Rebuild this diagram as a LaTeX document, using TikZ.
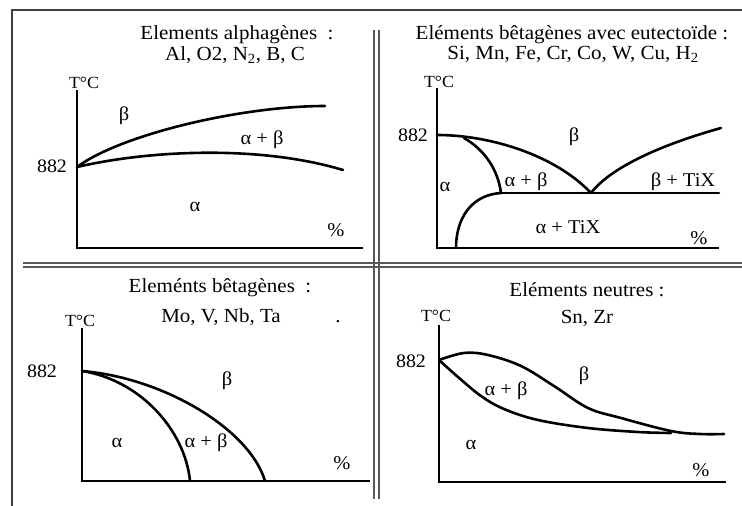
\documentclass[tikz,border=0pt]{standalone}
\usepackage{fontspec}
\setmainfont[FakeStretch=1.05]{Liberation Serif}
\begin{document}
\begin{tikzpicture}[x=1pt,y=-1pt,
  frame/.style={line width=1.8pt, draw=black!75},
  divider/.style={line width=1.5pt, draw=black!65},
  axis/.style={line width=1.4pt},
  curve/.style={line width=2.6pt, line cap=round},
  ttl/.style={font=\fontsize{20}{22}\selectfont, anchor=base, inner sep=0pt},
  lbl/.style={font=\fontsize{19.5}{20}\selectfont, inner sep=0pt},
  tlab/.style={font=\fontsize{17}{18}\selectfont, inner sep=0pt},
  tnum/.style={font=\fontsize{19}{20}\selectfont, inner sep=0pt}]
\useasboundingbox (0,0) rectangle (742,506);
% frame and dividers
\draw[frame] (12,506) -- (12,10) -- (742,10);
\draw[divider] (23,263) -- (742,263);
\draw[divider] (23,267) -- (742,267);
\draw[divider] (374,30) -- (374,499);
\draw[divider] (379,30) -- (379,499);

% ---------- Panel 1 ----------
\node[ttl] (t1a) at (237,39.5) {Elements alphagènes\ \ :};
\node[ttl] (t1b) at (235,60) {Al, O2, N\textsubscript{2}, B, C};
\draw[axis] (77,90) -- (77,248) -- (363,248);
\node[tlab] (T1) at (84,83) {T°C};
\node[tnum] (n1) at (52,166) {882};
\draw[curve] (77,167) .. controls (120,135) and (240,106) .. (325,106);
\draw[curve] (77,167) .. controls (150,150) and (260,145) .. (343,170);
\node[lbl] (b1) at (124,116) {β};
\node[lbl] (ab1) at (262,140) {α + β};
\node[lbl] (a1) at (195,207) {α};
\node[lbl] (p1) at (336,230) {\%};

% ---------- Panel 2 ----------
\node[ttl] (t2a) at (572,39) {Eléments bêtagènes avec eutectoïde :};
\node[ttl] (t2b) at (573,59) {Si, Mn, Fe, Cr, Co, W, Cu, H\textsubscript{2}};
\draw[axis] (437,88) -- (437,248) -- (719,248);
\node[tlab] (T2) at (439,82) {T°C};
\node[tnum] (n2) at (413,135) {882};
\draw[curve] (437,135) .. controls (490,135) and (555,155) .. (591,193);
\draw[curve] (464,138) .. controls (485,150) and (498,170) .. (501,193);
\draw[curve] (501,193) -- (719,193);
\draw[curve] (591,193) .. controls (610,168) and (660,145) .. (721,128);
\draw[curve] (501,193) .. controls (470,195) and (456,220) .. (456,248);
\node[lbl] (b2) at (574,137) {β};
\node[lbl] (a2) at (445,187) {α};
\node[lbl] (ab2) at (526,182) {α + β};
\node[lbl] (bt2) at (683,182) {β + TiX};
\node[lbl] (at2) at (568,227) {α + TiX};
\node[lbl] (p2) at (699,238) {\%};

% ---------- Panel 3 ----------
\node[ttl] (t3a) at (220,292) {Eleménts bêtagènes\ \ :};
\node[ttl] (t3b) at (221,322) {Mo, V, Nb, Ta};
\node[ttl] (dot3) at (338,322) {.};
\draw[axis] (82,328) -- (82,481) -- (370,481);
\node[tlab] (T3) at (80,321) {T°C};
\node[tnum] (n3) at (42,371) {882};
\draw[curve] (82,371) .. controls (140,380) and (185,430) .. (190,481);
\draw[curve] (82,371) .. controls (165,378) and (250,430) .. (265,481);
\node[lbl] (b3) at (227,381) {β};
\node[lbl] (a3) at (117,443) {α};
\node[lbl] (ab3) at (206,443) {α + β};
\node[lbl] (p3) at (342,463) {\%};

% ---------- Panel 4 ----------
\node[ttl] (t4a) at (587,296) {Eléments neutres :};
\node[ttl] (t4b) at (587,323) {Sn, Zr};
\draw[axis] (439,325) -- (439,482) -- (726,482);
\node[tlab] (T4) at (436,316) {T°C};
\node[tnum] (n4) at (411,361) {882};
\draw[curve] plot[smooth, tension=0.6] coordinates {(439,360) (464,353) (488,355) (521,366) (554,386) (588,408) (621,418) (671,431) (700,434) (724,434)};
\draw[curve] plot[smooth, tension=0.6] coordinates {(439,360) (458,377) (481,396) (504,409) (538,420) (588,428) (638,432) (671,433)};
\node[lbl] (b4) at (584,376) {β};
\node[lbl] (ab4) at (506,391) {α + β};
\node[lbl] (a4) at (471,445) {α};
\node[lbl] (p4) at (701,470) {\%};
\end{tikzpicture}
\end{document}
